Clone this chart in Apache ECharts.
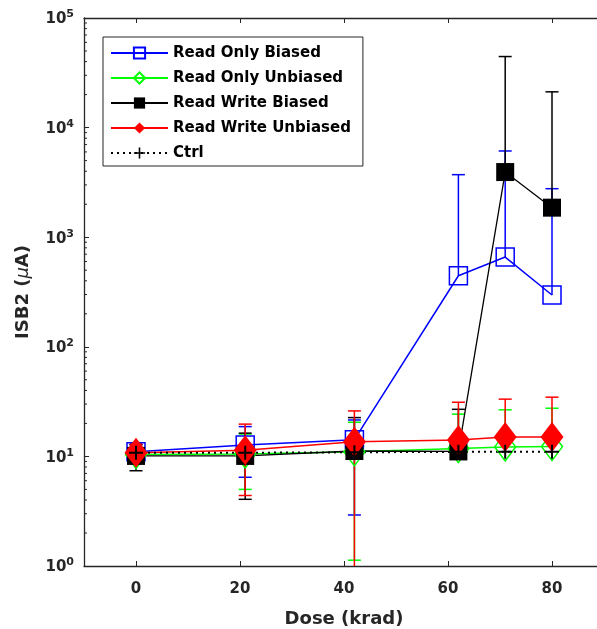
<!DOCTYPE html>
<html>
<head>
<meta charset="utf-8">
<title>ISB2 vs Dose</title>
<script src="https://cdn.jsdelivr.net/npm/echarts@6/dist/echarts.min.js"></script>
<style>
  html, body { margin: 0; padding: 0; background: #fff; }
  #chart { width: 597px; height: 629px; }
</style>
</head>
<body>
<div id="chart"></div>
<script>
// doses (krad)
var dose = [0, 21, 42, 62, 71, 80];
var xTicks = [0, 20, 40, 60, 80];

// Read Only Biased
var robMean = [11.0, 12.7, 14.2, 445, 659, 297];
var robHi = [12.8, 18.7, 21.5, 3720, 6120, 2770];
var robLo = [9.4, 6.45, 2.92, null, null, null];
// Read Only Unbiased
var rouMean = [10.4, 10.5, 11.0, 11.8, 12.2, 12.3];
var rouHi = [11.5, 16.0, 20.5, 24.3, 26.6, 27.5];
var rouLo = [9.3, 5.0, 1.13, null, null, null];
// Read Write Biased
var rwbMean = [10.1, 10.1, 11.2, 11.1, 3930, 1860];
var rwbHi = [12.8, 16.3, 22.6, 26.9, 44500, 21200];
var rwbLo = [7.4, 4.06, null, null, null, null];
// Read Write Unbiased
var rwuMean = [10.8, 11.4, 13.6, 14.1, 15.0, 15.0];
var rwuHi = [13.0, 19.7, 26.0, 31.2, 33.3, 34.7];
var rwuLo = [8.8, 4.4, 0.5, null, null, null];
// Ctrl
var ctrlMean = [10.8, 10.8, 10.9, 11.0, 11.0, 11.0];

// log minor ticks: 2..9 in each decade
var decades = [1, 10, 100, 1000, 10000];
var mantissas = [2, 3, 4, 5, 6, 7, 8, 9];

var axisColor = '#262626';
var font = 'DejaVu Sans';

function pts(ys) {
    return dose.map(function (x, i) { return [x, ys[i]]; });
}

// error bar series, drawn with the axis scales
function errBars(color, mean, hi, lo) {
    var data = dose.map(function (x, i) {
        return [x, mean[i], lo[i] == null ? NaN : lo[i], hi[i]];
    });
    return {
        type: 'custom',
        silent: true,
        data: data,
        encode: { x: 0, y: 1 },
        renderItem: function (params, api) {
            var x = api.value(0), m = api.value(1), lo = api.value(2), hi = api.value(3);
            var cs = params.coordSys;
            var bottom = cs.y + cs.height;
            var top = api.coord([x, hi]);
            var mid = api.coord([x, m]);
            var botY = mid[1], capBot = false;
            if (!isNaN(lo) && lo > 0) {
                botY = api.coord([x, lo])[1];
                capBot = true;
                if (botY > bottom) { botY = bottom; capBot = false; }
            }
            var cx = top[0], w = 6.5;
            var st = { stroke: color, lineWidth: 1.5 };
            var kids = [
                { type: 'line', shape: { x1: cx, y1: top[1], x2: cx, y2: botY }, style: st },
                { type: 'line', shape: { x1: cx - w, y1: top[1], x2: cx + w, y2: top[1] }, style: st }
            ];
            if (capBot) {
                kids.push({ type: 'line', shape: { x1: cx - w, y1: botY, x2: cx + w, y2: botY }, style: st });
            }
            return { type: 'group', children: kids };
        },
        z: 2
    };
}

var minorVals = [];
decades.forEach(function (d) {
    mantissas.forEach(function (m) { minorVals.push([-10, d * m]); });
});

var minorTicks = {
    type: 'custom',
    silent: true,
    data: minorVals,
    encode: { x: 0, y: 1 },
    renderItem: function (params, api) {
        var p = api.coord([api.value(0), api.value(1)]);
        var cs = params.coordSys;
        return {
            type: 'line',
            shape: { x1: cs.x, y1: p[1], x2: cs.x + 3, y2: p[1] },
            style: { stroke: axisColor, lineWidth: 1 }
        };
    },
    z: 1
};

// little I-beams on the legend icons
function legendBeam(row, color) {
    var cx = 139, cy = 52 + row * 25, h = 9.5, w = 4.5;
    var st = { stroke: color, lineWidth: 1.3 };
    return {
        type: 'group',
        z: 100,
        children: [
            { type: 'line', shape: { x1: cx, y1: cy - h, x2: cx, y2: cy + h }, style: st },
            { type: 'line', shape: { x1: cx - w, y1: cy - h, x2: cx + w, y2: cy - h }, style: st },
            { type: 'line', shape: { x1: cx - w, y1: cy + h, x2: cx + w, y2: cy + h }, style: st }
        ]
    };
}

var plus = 'path://M-1,-7H1V-1H7V1H1V7H-1V1H-7V-1H-1Z';

var chart = echarts.init(document.getElementById('chart'), null, { renderer: 'canvas' });

var option = {
    animation: false,
    backgroundColor: '#fff',
    grid: { left: 84, top: 18, width: 520, height: 548, outerBoundsMode: 'none', containLabel: false },
    legend: {
        left: 103,
        top: 37,
        orient: 'vertical',
        padding: [7, 12, 4, 7],
        itemWidth: 57,
        itemHeight: 14,
        itemGap: 7,
        borderColor: axisColor,
        borderWidth: 1,
        backgroundColor: '#fff',
        textStyle: { fontFamily: font, fontWeight: 'bold', fontSize: 15, color: '#000', lineHeight: 18 },
        data: ['Read Only Biased', 'Read Only Unbiased', 'Read Write Biased', 'Read Write Unbiased', 'Ctrl']
    },
    graphic: [
        legendBeam(0, '#0000ff'),
        legendBeam(1, '#00ff00'),
        legendBeam(2, '#000000'),
        legendBeam(3, '#ff0000')
    ],
    xAxis: [{
        type: 'value',
        min: -10,
        max: 90,
        name: 'Dose (krad)',
        nameLocation: 'middle',
        nameGap: 44,
        nameTextStyle: { fontFamily: font, fontWeight: 'bold', fontSize: 18, color: axisColor },
        axisLine: { onZero: false, lineStyle: { color: axisColor, width: 1.3 } },
        axisTick: { inside: true, length: 5, customValues: xTicks, lineStyle: { color: axisColor } },
        axisLabel: { customValues: xTicks, margin: 16, fontFamily: font, fontWeight: 'bold', fontSize: 15, color: axisColor },
        splitLine: { show: false }
    }, {
        type: 'value',
        position: 'top',
        min: -10,
        max: 90,
        axisLine: { onZero: false, lineStyle: { color: axisColor, width: 1.3 } },
        axisTick: { inside: true, length: 5, customValues: xTicks, lineStyle: { color: axisColor } },
        axisLabel: { show: false },
        splitLine: { show: false }
    }],
    yAxis: {
        type: 'log',
        logBase: 10,
        min: 1,
        max: 100000,
        name: 'ISB2 ({mu|μ}A)',
        nameLocation: 'middle',
        nameGap: 52,
        nameTextStyle: {
            fontFamily: font, fontWeight: 'bold', fontSize: 18, color: axisColor,
            rich: { mu: { fontFamily: font, fontStyle: 'italic', fontWeight: 'normal', fontSize: 18, color: axisColor } }
        },
        axisLine: { show: true, onZero: false, lineStyle: { color: axisColor, width: 1.3 } },
        axisTick: { inside: true, length: 5, lineStyle: { color: axisColor } },
        minorTick: { show: false },
        axisLabel: {
            margin: 10,
            formatter: function (v) {
                var e = Math.round(Math.log(v) / Math.LN10);
                return '{a|10}{b|' + e + '}';
            },
            rich: {
                a: { fontFamily: font, fontWeight: 'bold', fontSize: 15, color: axisColor, lineHeight: 18, verticalAlign: 'bottom' },
                b: { fontFamily: font, fontWeight: 'bold', fontSize: 11, color: axisColor, lineHeight: 11, verticalAlign: 'top' }
            }
        },
        splitLine: { show: false }
    },
    series: [
        minorTicks,
        errBars('#0000ff', robMean, robHi, robLo),
        {
            name: 'Read Only Biased', type: 'line', data: pts(robMean),
            symbol: 'rect', symbolSize: 18, showAllSymbol: true,
            lineStyle: { color: '#0000ff', width: 1.5 },
            itemStyle: { color: 'rgba(0,0,0,0)', borderColor: '#0000ff', borderWidth: 1.5 }
        },
        errBars('#00ff00', rouMean, rouHi, rouLo),
        {
            name: 'Read Only Unbiased', type: 'line', data: pts(rouMean),
            symbol: 'diamond', symbolSize: [21, 28], showAllSymbol: true,
            lineStyle: { color: '#00ff00', width: 1.5 },
            itemStyle: { color: 'rgba(0,0,0,0)', borderColor: '#00ff00', borderWidth: 1.5 }
        },
        errBars('#000000', rwbMean, rwbHi, rwbLo),
        {
            name: 'Read Write Biased', type: 'line', data: pts(rwbMean),
            symbol: 'rect', symbolSize: 18, showAllSymbol: true,
            lineStyle: { color: '#000000', width: 1.3 },
            itemStyle: { color: '#000000' }
        },
        errBars('#ff0000', rwuMean, rwuHi, rwuLo),
        {
            name: 'Read Write Unbiased', type: 'line', data: pts(rwuMean),
            symbol: 'diamond', symbolSize: [23, 30], showAllSymbol: true,
            lineStyle: { color: '#ff0000', width: 1.5 },
            itemStyle: { color: '#ff0000' }
        },
        {
            name: 'Ctrl', type: 'line', data: pts(ctrlMean),
            symbol: plus, symbolSize: 14, showAllSymbol: true,
            lineStyle: { color: '#000000', width: 2, type: [2, 4] },
            itemStyle: { color: '#000000' }
        }
    ]
};

chart.setOption(option);
</script>
</body>
</html>
